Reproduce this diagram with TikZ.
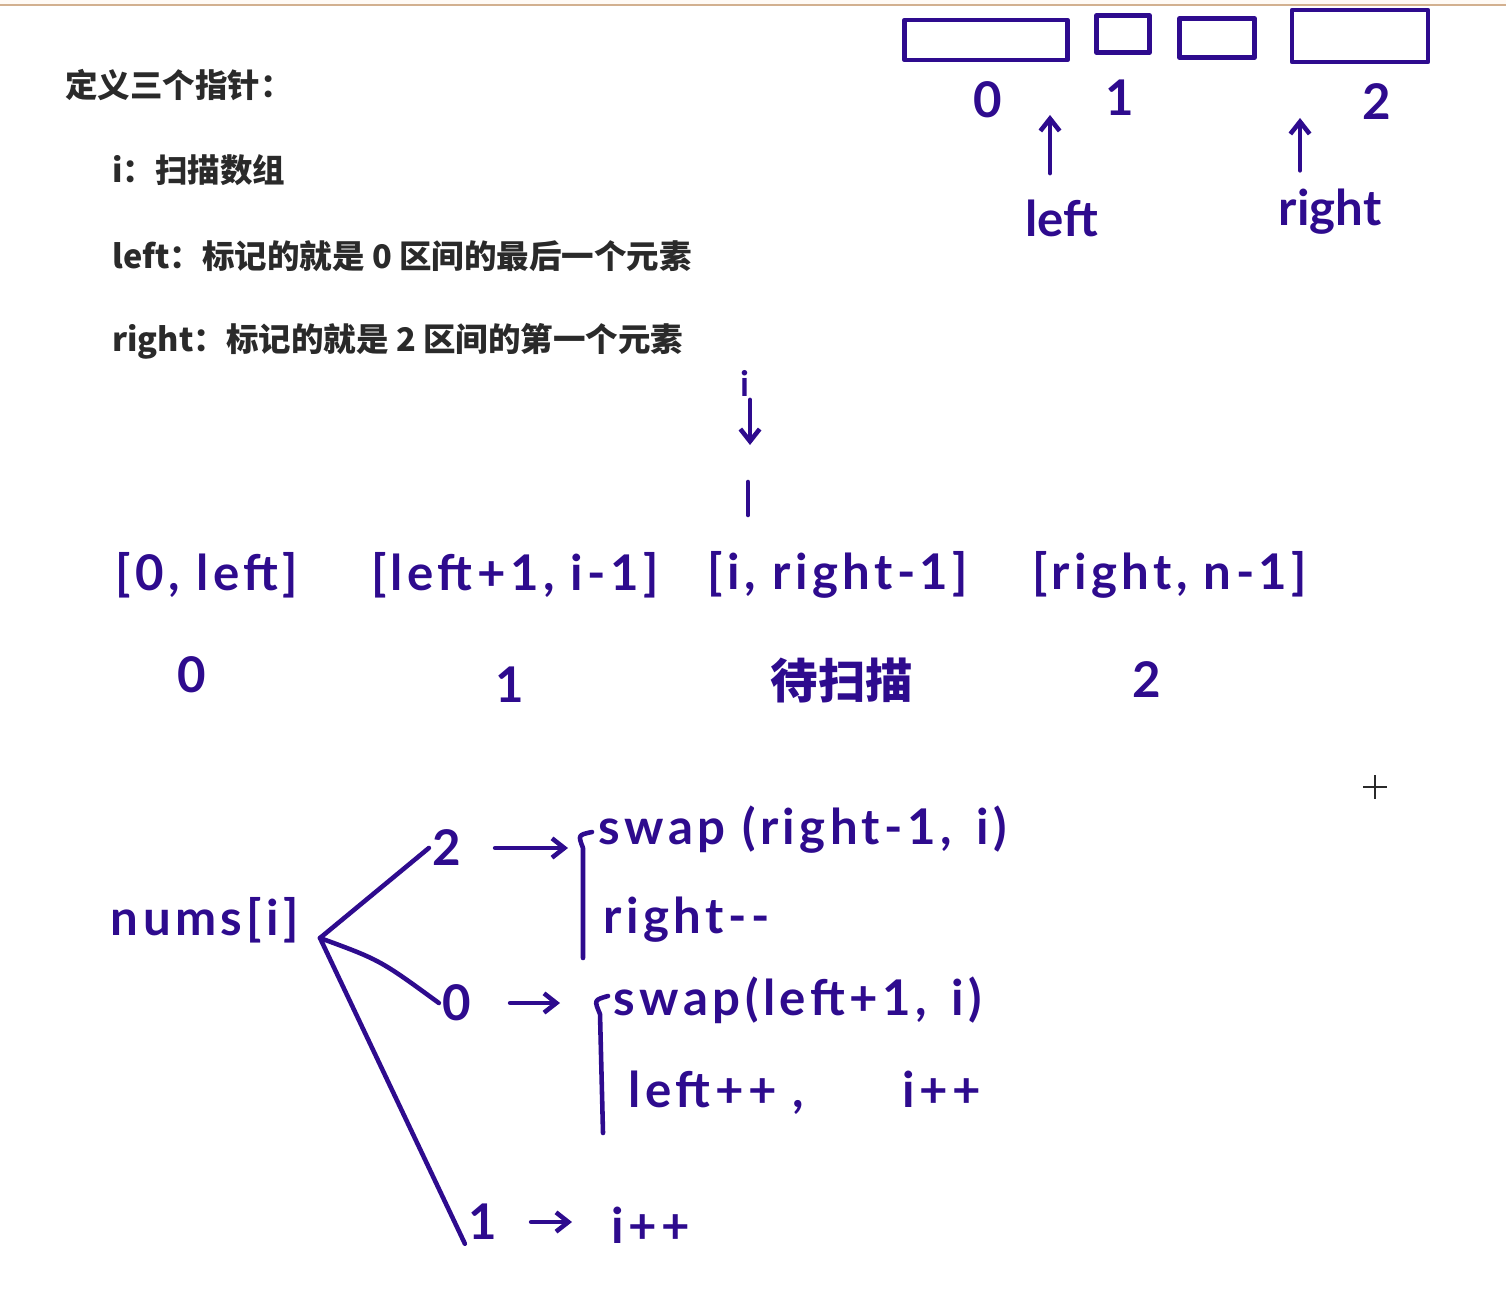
\documentclass[tikz,border=0pt]{standalone}
\usepackage{fontspec}
\setmainfont{Lato}
\newfontfamily\cjk{Noto Sans CJK SC}
\usetikzlibrary{arrows.meta}

\definecolor{inkblue}{HTML}{2E0B8E}
\definecolor{notegray}{HTML}{2A2A2A}
\definecolor{edgetan}{HTML}{D2B08F}

\tikzset{
    ink/.style={draw=inkblue, line width=2.6pt, line cap=round, line join=round},
    pen/.style={ink, -{Straight Barb[length=7pt, width=11pt]}},
    note/.style={text=notegray, anchor=west, inner sep=0pt,
        font=\cjk\bfseries\fontsize{18.5}{22}\selectfont},
    hand/.style={text=inkblue, inner sep=2pt,
        font=\bfseries\fontsize{28}{32}\selectfont},
    wide/.style={hand, font=\bfseries\fontsize{28}{32}\selectfont\addfontfeature{LetterSpace=9}},
    cjkhand/.style={hand, font=\cjk\bfseries\fontsize{27}{30}\selectfont},
    cell/.style={ink, rectangle, inner sep=0pt}
}

\begin{document}
\begin{tikzpicture}[x=0.02cm, y=-0.02cm]
    \useasboundingbox (0,0) rectangle (1506,1300);
    \fill[orange!4] (0,0) rectangle (1506,5);
    \draw[edgetan, line width=1pt] (0,5) -- (1506,5);

    % definitions
    \node[note] (title) at (65,85) {定义三个指针：};
    \node[note] (defi) at (112,170) {i：扫描数组};
    \node[note] (defl) at (112,256) {left：标记的就是 0 区间的最后一个元素};
    \node[note] (defr) at (112,341) {right：标记的就是 2 区间的第一个元素};

    % the array, cut in parts
    \node[cell, minimum width=3.26cm, minimum height=0.8cm] (c0) at (986,40) {};
    \node[cell, minimum width=1.06cm, minimum height=0.74cm] (c1) at (1123,34) {};
    \node[cell, minimum width=1.5cm, minimum height=0.78cm] (c2) at (1217,38) {};
    \node[cell, minimum width=2.72cm, minimum height=1.04cm] (c3) at (1360,36) {};

    \node[hand] (k0) at (988,100) {0};
    \node[hand] (k1) at (1120,98) {1};
    \node[hand] (k2) at (1377,102) {2};

    \node[hand] (lft) at (1062,218) {left};
    \node[hand] (rgt) at (1330,212) {right};
    \coordinate (lftTip) at (1050,115);
    \coordinate (rgtTip) at (1300,118);
    \draw[pen, shorten <=0.45cm] (lft.north -| lftTip) -- (lftTip);
    \draw[pen, shorten <=0.3cm] (rgt.north -| rgtTip) -- (rgtTip);

    % the i pointer
    \node[hand, font=\bfseries\fontsize{20}{24}\selectfont] (ip) at (745,383) {i};
    \coordinate (ipTip) at (750,445);
    \draw[pen] (ip.south -| ipTip) -- (ipTip);
    \draw[ink] (748,482) -- (748,515);

    % the four ranges
    \node[wide] (r0) at (207,575) {[0, left]};
    \node[wide] (r1) at (515,575) {[left+1, i-1]};
    \node[wide] (r2) at (838,575) {[i, right-1]};
    \node[wide] (r3) at (1170,575) {[right, n-1]};

    \node[hand] (g0) at (192,675) {0};
    \node[hand] (g1) at (510,685) {1};
    \node[cjkhand] (g2) at (842,680) {待扫描};
    \node[hand] (g3) at (1147,680) {2};

    % mouse cursor
    \draw[notegray, line width=0.7pt] (1363,787) -- (1387,787) (1375,775) -- (1375,799);

    % cases for nums[i]
    \node[wide] (nums) at (205,920) {nums[i]};
    \coordinate (fork) at (320,938);
    \node[hand] (n2) at (447,848) {2};
    \node[hand] (n0) at (457,1003) {0};
    \node[hand] (n1) at (483,1222) {1};

    \draw[ink] (fork) -- (n2.west);
    \draw[ink] (fork) .. controls (380,960) .. (n0.west);
    \draw[ink] (fork) -- (n1.south west);

    \coordinate (b2) at (568,843);
    \coordinate (b0) at (560,1003);
    \coordinate (b1) at (572,1222);
    \draw[pen, shorten <=0.6cm] (n2.east) -- (n2.east -| b2);
    \draw[pen, shorten <=0.7cm] (n0.east) -- (n0.east -| b0);
    \draw[pen, shorten <=0.6cm] (n1.east) -- (n1.east -| b1);

    \draw[ink] (592,832) .. controls (578,835) .. (583,848) -- (583,958);
    \draw[ink] (608,996) .. controls (594,1000) .. (600,1014) -- (603,1133);

    \node[wide, anchor=west] (s2a) at (595,830) {swap (right-1,\, i)};
    \node[wide, anchor=west] (s2b) at (600,920) {right-{}-};
    \node[wide, anchor=west] (s0a) at (610,1000) {swap(left+1,\, i)};
    \node[wide, anchor=west] (s0b) at (625,1093) {left++ ,\qquad i++};
    \node[wide, anchor=west] (s1) at (608,1225) {i++};
\end{tikzpicture}
\end{document}
